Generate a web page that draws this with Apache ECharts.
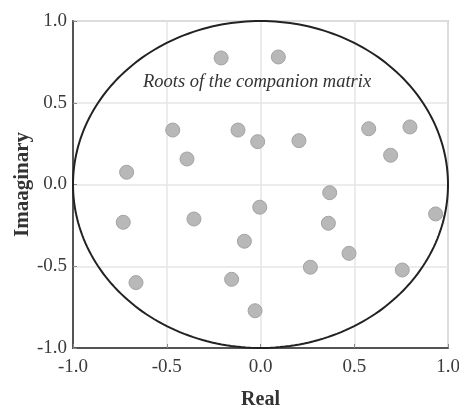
<!DOCTYPE html>
<html>
<head>
<meta charset="utf-8">
<script src="https://cdn.jsdelivr.net/npm/echarts@6/dist/echarts.min.js"></script>
<style>
  html, body { margin: 0; padding: 0; background: #fff; }
  #chart { width: 459px; height: 409px; }
</style>
</head>
<body>
<div id="chart"></div>
<script>
// roots (real, imaginary)
const realParts = [-0.21, 0.095, -0.468, -0.12, -0.392, -0.015, 0.205, 0.577, 0.797, 0.694, -0.714, 0.369,
  -0.004, -0.355, -0.732, 0.362, 0.934, -0.086, 0.472, 0.266, 0.756, -0.154, -0.664, -0.029];
const imagParts = [0.774, 0.78, 0.333, 0.333, 0.156, 0.262, 0.268, 0.341, 0.352, 0.179, 0.075, -0.05,
  -0.139, -0.211, -0.231, -0.237, -0.18, -0.347, -0.421, -0.506, -0.523, -0.58, -0.60, -0.772];
const axisTicks = [-1.0, -0.5, 0.0, 0.5, 1.0];

const roots = realParts.map((re, i) => [re, imagParts[i]]);

const chart = echarts.init(document.getElementById('chart'));
const serif = '"Liberation Serif", "DejaVu Serif", serif';

const option = {
  animation: false,
  backgroundColor: '#fff',
  grid: {
    left: 73, right: 11, top: 21, bottom: 61, outerBoundsMode: 'none',
    show: true, borderColor: '#aaa', borderWidth: 1.5
  },
  title: {
    text: 'Roots of the companion matrix',
    left: 143, top: 73, padding: 0,
    textStyle: { fontFamily: serif, fontStyle: 'italic', fontWeight: 'normal', fontSize: 18.5, color: '#333' }
  },
  xAxis: {
    type: 'value', min: -1, max: 1, interval: 0.5,
    name: 'Real', nameLocation: 'middle', nameGap: 42,
    nameTextStyle: { fontFamily: serif, fontWeight: 'bold', fontSize: 20, color: '#333' },
    axisLine: { onZero: false, lineStyle: { color: '#555', width: 2 } },
    axisTick: { inside: true, length: 4, lineStyle: { color: '#888' } },
    axisLabel: { fontFamily: serif, fontSize: 19, color: '#3a3a3a', margin: 10, formatter: v => v.toFixed(1) },
    splitLine: { lineStyle: { color: '#e6e6e6', width: 1.5 } }
  },
  yAxis: {
    type: 'value', min: -1, max: 1, interval: 0.5,
    name: 'Imaaginary', nameLocation: 'middle', nameGap: 40, nameMoveOverlap: false,
    nameTextStyle: { fontFamily: serif, fontWeight: 'bold', fontSize: 21, color: '#333' },
    axisLine: { onZero: false, lineStyle: { color: '#555', width: 2 } },
    axisTick: { inside: true, length: 4, lineStyle: { color: '#888' } },
    axisLabel: { fontFamily: serif, fontSize: 19, color: '#3a3a3a', margin: 6, formatter: v => v.toFixed(1) },
    splitLine: { lineStyle: { color: '#e6e6e6', width: 1.5 } }
  },
  series: [
    {
      // unit circle drawn through the axis scales
      type: 'custom',
      silent: true,
      data: [[0, 0]],
      z: 3,
      renderItem: (params, api) => {
        const pts = [];
        for (let k = 0; k <= 240; k++) {
          const t = (k / 240) * Math.PI * 2;
          pts.push(api.coord([Math.cos(t), Math.sin(t)]));
        }
        return {
          type: 'polyline',
          shape: { points: pts },
          style: { stroke: '#222', lineWidth: 2, fill: null }
        };
      }
    },
    {
      type: 'scatter',
      data: roots,
      symbolSize: 14,
      z: 4,
      itemStyle: { color: '#b8b8b8', borderColor: '#a3a3a3', borderWidth: 1, opacity: 1 }
    }
  ]
};

chart.setOption(option);
</script>
</body>
</html>
